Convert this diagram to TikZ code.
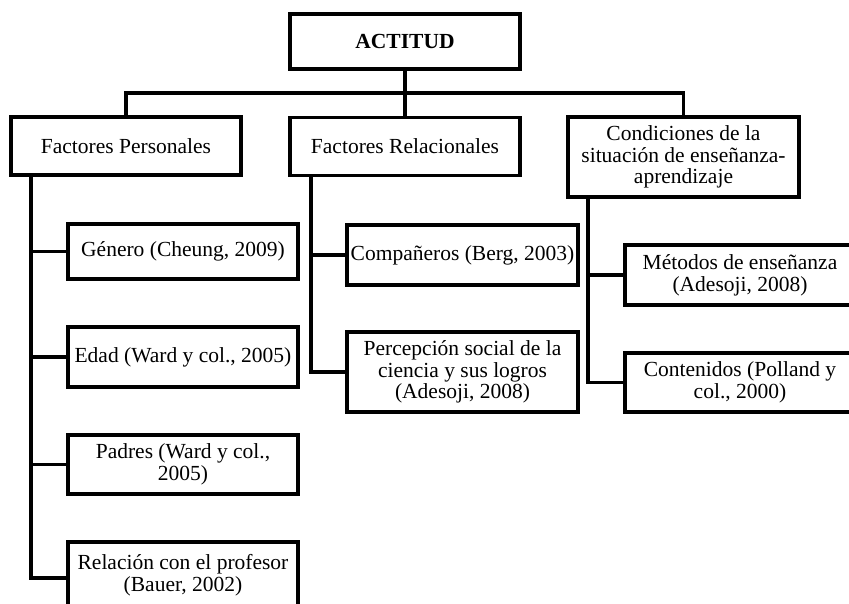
\documentclass[tikz,border=0pt]{standalone}
\usepackage{fontspec}
\setmainfont{Liberation Serif}
\usetikzlibrary{positioning}

\tikzset{
  box/.style={draw,line width=3.8pt,inner sep=0pt,align=center,
    minimum width=230pt,minimum height=#1,
    font=\fontsize{21.5}{21.8}\selectfont},
  box/.default=58pt,
  link/.style={line width=3.8pt}
}

\begin{document}
\begin{tikzpicture}[x=1pt,y=-1pt]
    \useasboundingbox (0,0) rectangle (849,603);
    \clip (0,0) rectangle (849,603);
    % top
    \node[box=55pt] (act) at (405,41.5) {\textbf{ACTITUD}};
    \node[box] (fp) at (126,146) {Factores Personales};
    \node[box] (fr) at (405,146.5) {Factores Relacionales};
    \node[box=80pt,minimum width=231pt] (cond) at (683.5,157)
      {Condiciones de la\\situación de enseñanza-\\aprendizaje};
    \coordinate (bus) at (405,93);
    % factores personales
    \node[box=55pt] (gen) at (183,251.5) {Género (Cheung, 2009)};
    \node[box=60pt] (edad) at (183,357) {Edad (Ward y col., 2005)};
    \node[box=59pt] (padres) at (183,464.5) {Padres (Ward y col.,\\2005)};
    \node[box=66pt] (rel) at (183,575) {Relación con el profesor\\(Bauer, 2002)};
    % factores relacionales
    \node[box=60pt,minimum width=231pt] (comp) at (462.5,255) {Compañeros (Berg, 2003)};
    \node[box=80pt,minimum width=231pt] (perc) at (462.5,372)
      {Percepción social de la\\ciencia y sus logros\\(Adesoji, 2008)};
    % condiciones
    \node[box=60pt] (met) at (740,275) {Métodos de enseñanza\\(Adesoji, 2008)};
    \node[box=59pt] (cont) at (740,382.5) {Contenidos (Polland y\\col., 2000)};

    \draw[link] (act) -- (fr);
    \draw[link] (fp.north) |- (bus) -| (cond.north);
    \foreach \c in {gen,edad,padres}
      \draw[link] ([xshift=22pt]fp.south west) |- (\c.west);
    \draw[link] ([xshift=22pt]fp.south west) |- ([yshift=-3pt]rel.west);
    \foreach \c in {comp,perc}
      \draw[link] ([xshift=23pt]fr.south west) |- (\c.west);
    \foreach \c in {met,cont}
      \draw[link] ([xshift=22pt]cond.south west) |- (\c.west);
\end{tikzpicture}
\end{document}
